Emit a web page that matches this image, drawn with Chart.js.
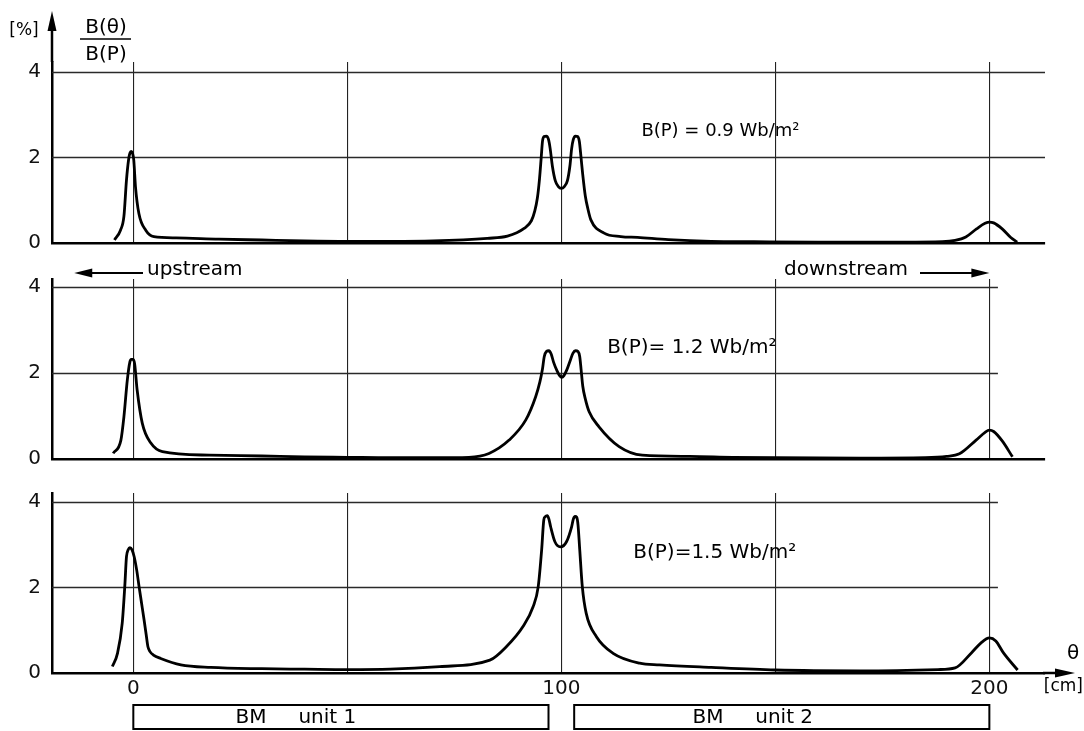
<!DOCTYPE html>
<html>
<head>
<meta charset="utf-8">
<script src="https://cdn.jsdelivr.net/npm/chart.js@4.4.0/dist/chart.umd.min.js"></script>
<style>
  body { margin: 0; background: #fff; }
  #wrap { position: relative; width: 1084px; height: 731px; overflow: hidden; }
  canvas { position: absolute; left: 0; }
</style>
</head>
<body>
<div id="wrap">
  <canvas id="c1" width="1084" height="252" style="top:0px"></canvas>
  <canvas id="c2" width="1084" height="216" style="top:252px"></canvas>
  <canvas id="c3" width="1084" height="263" style="top:468px"></canvas>
</div>
<script>
// Data: theta [cm] and B(theta)/B(P) [%]

// B(P) = 0.9 Wb/m2
let theta09 = [-4.4, -3.0, -2.2, -1.6, -1.1, -0.8, -0.5, -0.2, 0.1, 0.5, 1.3, 2.9, 4.8, 10, 20, 30, 40, 50, 60, 70, 82.7,
  87.4, 91.3, 93.0, 93.8, 94.4, 94.9, 95.3, 95.6, 96.0, 96.5, 97.0, 97.4, 97.9, 98.6, 99.3, 100, 100.7, 101.4, 102.0,
  102.4, 102.8, 103.3, 103.8, 104.2, 104.6, 105.0, 105.6, 106.2, 106.9,
  110, 113.9, 117.8, 125, 135, 145, 160, 180, 189, 192, 194.5, 197, 199, 200, 201, 203, 205, 206.5];
let b09 = [0.07, 0.30, 0.62, 1.47, 1.95, 2.10, 2.14, 2.10, 1.94, 1.32, 0.69, 0.30, 0.15, 0.12, 0.09, 0.07, 0.05, 0.04, 0.04, 0.05, 0.11,
  0.16, 0.34, 0.52, 0.75, 1.05, 1.50, 2.00, 2.38, 2.49, 2.50, 2.42, 2.20, 1.80, 1.45, 1.32, 1.28, 1.32, 1.45, 1.80,
  2.20, 2.42, 2.50, 2.49, 2.38, 2.00, 1.60, 1.10, 0.80, 0.54,
  0.23, 0.15, 0.13, 0.08, 0.04, 0.03, 0.02, 0.02, 0.03, 0.06, 0.14, 0.33, 0.46, 0.49, 0.47, 0.33, 0.13, 0.02];

// B(P) = 1.2 Wb/m2
let theta12 = [-4.7, -2.9, -2.2, -1.4, -0.8, -0.5, -0.1, 0.3, 0.9, 2.1, 4.1, 6.8, 17.7, 30, 40, 50, 60, 70, 78.4,
  83.1, 87.8, 91.7, 94.0, 95.0, 95.6, 96.0, 96.5, 97.1, 97.6, 98.2, 99.0, 99.6, 100.1, 100.6, 101.3, 102.1, 102.7,
  103.3, 103.9, 104.3, 104.6, 105.0, 105.6, 106.5, 108.8,
  113.5, 118.9, 130, 140, 150, 170, 185, 190, 193, 196.9, 199, 200, 201, 203, 205.4];
let b12 = [0.13, 0.44, 0.98, 1.84, 2.26, 2.32, 2.32, 2.22, 1.60, 0.83, 0.37, 0.17, 0.09, 0.07, 0.05, 0.04, 0.03, 0.03, 0.04,
  0.13, 0.44, 0.91, 1.45, 1.80, 2.10, 2.38, 2.50, 2.52, 2.45, 2.25, 2.05, 1.94, 1.90, 1.94, 2.08, 2.30, 2.46,
  2.52, 2.50, 2.38, 2.10, 1.70, 1.40, 1.10, 0.75,
  0.29, 0.09, 0.06, 0.04, 0.03, 0.02, 0.03, 0.06, 0.12, 0.44, 0.62, 0.67, 0.64, 0.42, 0.05];

// B(P) = 1.5 Wb/m2
let theta15 = [-4.9, -3.7, -2.6, -2.0, -1.6, -1.2, -0.8, -0.3, 0.2, 0.8, 1.3, 1.9, 2.5, 3.0, 3.4, 3.9, 4.7, 6.4, 11.1, 18.1,
  30, 40, 50, 60, 71.6, 83.3, 87.2, 91.0, 93.4, 94.6, 95.4, 95.9, 96.2, 96.7, 97.1, 97.5, 98.5, 99.8, 101.2, 102.4,
  102.8, 103.2, 103.6, 103.9, 104.3, 104.9, 105.8,
  108.2, 112.1, 118.3, 122.9, 135, 150, 170, 188, 192, 195.8, 198, 200, 201.5, 203.3, 206.6];
let b15 = [0.15, 0.46, 1.16, 2.02, 2.72, 2.88, 2.93, 2.88, 2.72, 2.40, 2.05, 1.65, 1.25, 0.90, 0.62, 0.50, 0.42, 0.34, 0.19, 0.13,
  0.10, 0.09, 0.08, 0.09, 0.15, 0.30, 0.62, 1.08, 1.55, 2.02, 2.88, 3.58, 3.65, 3.68, 3.60, 3.42, 3.07, 2.95, 3.07, 3.42,
  3.60, 3.66, 3.64, 3.46, 2.88, 2.02, 1.40,
  0.85, 0.46, 0.23, 0.19, 0.13, 0.07, 0.05, 0.08, 0.12, 0.47, 0.70, 0.82, 0.75, 0.47, 0.07];

let xTicks = [0, 50, 100, 150, 200];
let xLabels = ['0', '', '100', '', '200'];
let yTicks = [0, 2, 4];
let yLabels = ['0', '2', '4'];

let fieldLabels = ['B(P) = 0.9 Wb/m²', 'B(P)= 1.2 Wb/m²', 'B(P)=1.5 Wb/m²'];

let unitNames = ['BM     unit 1', 'BM     unit 2'];
let unitStart = [0, 103];
let unitEnd = [97, 200];

const FONT = '"DejaVu Sans", sans-serif';
Chart.defaults.font.family = FONT;
Chart.defaults.color = '#111';

function arrow(ctx, x1, y1, x2, y2, len, half) {
  const a = Math.atan2(y2 - y1, x2 - x1);
  const c = Math.cos(a), s = Math.sin(a);
  ctx.beginPath();
  ctx.moveTo(x1, y1);
  ctx.lineTo(x2 - c * len * 0.7, y2 - s * len * 0.7);
  ctx.stroke();
  ctx.beginPath();
  ctx.moveTo(x2, y2);
  ctx.lineTo(x2 - c * len - s * half, y2 - s * len + c * half);
  ctx.lineTo(x2 - c * len + s * half, y2 - s * len - c * half);
  ctx.closePath();
  ctx.fill();
}

// horizontal grid lines at 2 and 4, only as far as the drawing has them
const hgrid = {
  id: 'hgrid',
  beforeDatasetsDraw(chart, args, opts) {
    const {ctx, chartArea, scales: {x, y}} = chart;
    ctx.save();
    ctx.strokeStyle = '#2a2a2a';
    ctx.lineWidth = 1.3;
    yTicks.forEach(v => {
      if (v === 0) return;
      const py = Math.round(y.getPixelForValue(v)) + 0.5;
      ctx.beginPath();
      ctx.moveTo(chartArea.left, py);
      ctx.lineTo(x.getPixelForValue(opts.gridTo), py);
      ctx.stroke();
    });
    ctx.restore();
  }
};

function fieldText(chart, i, xv, yv, size) {
  const {ctx, scales: {x, y}} = chart;
  ctx.font = size + 'px ' + FONT;
  ctx.textAlign = 'left';
  ctx.textBaseline = 'middle';
  ctx.fillText(fieldLabels[i], x.getPixelForValue(xv), y.getPixelForValue(yv));
}

const panelOne = {
  id: 'panelOne',
  afterDraw(chart) {
    const {ctx, chartArea} = chart;
    ctx.save();
    ctx.fillStyle = '#000';
    ctx.strokeStyle = '#000';
    ctx.lineWidth = 2.5;
    arrow(ctx, chartArea.left, chartArea.top, chartArea.left, 11, 20, 4.5);
    ctx.textAlign = 'center';
    ctx.textBaseline = 'middle';
    ctx.font = '17px ' + FONT;
    ctx.fillText('[%]', 24, 31);
    ctx.font = '20px ' + FONT;
    ctx.fillText('B(θ)', 106, 28);
    ctx.fillText('B(P)', 106, 55);
    ctx.lineWidth = 1.6;
    ctx.beginPath();
    ctx.moveTo(80, 39);
    ctx.lineTo(131, 39);
    ctx.stroke();
    fieldText(chart, 0, 118.7, 2.62, 18);
    ctx.restore();
  }
};

const panelTwo = {
  id: 'panelTwo',
  afterDraw(chart) {
    const {ctx, scales: {x}} = chart;
    ctx.save();
    ctx.fillStyle = '#000';
    ctx.strokeStyle = '#000';
    ctx.lineWidth = 2.2;
    ctx.font = '20px ' + FONT;
    ctx.textBaseline = 'alphabetic';
    ctx.textAlign = 'left';
    ctx.fillText('upstream', 147, 23);
    ctx.textAlign = 'right';
    ctx.fillText('downstream', 908, 23);
    arrow(ctx, 143, 21, x.getPixelForValue(-13.8), 21, 18, 4.5);
    arrow(ctx, 920, 21, x.getPixelForValue(200), 21, 18, 4.5);
    fieldText(chart, 1, 110.7, 2.6, 20);
    ctx.restore();
  }
};

const panelThree = {
  id: 'panelThree',
  afterDraw(chart) {
    const {ctx, chartArea, scales: {x}} = chart;
    const textShift = [-45, -29];
    ctx.save();
    ctx.fillStyle = '#000';
    ctx.strokeStyle = '#000';
    ctx.lineWidth = 2.5;
    arrow(ctx, chartArea.right - 2, chartArea.bottom, 1075, chartArea.bottom, 20, 4.5);
    fieldText(chart, 2, 116.8, 2.8, 20);
    ctx.textBaseline = 'middle';
    ctx.textAlign = 'center';
    ctx.font = '20px ' + FONT;
    ctx.fillText('θ', 1073, 186);
    ctx.textAlign = 'right';
    ctx.font = '17px ' + FONT;
    ctx.fillText('[cm]', 1083, 219);
    // magnet units
    ctx.textAlign = 'center';
    ctx.font = '20px ' + FONT;
    ctx.lineWidth = 2;
    for (let i = 0; i < unitNames.length; i++) {
      const l = x.getPixelForValue(unitStart[i]);
      const r = x.getPixelForValue(unitEnd[i]);
      ctx.strokeRect(l, 237, r - l, 24);
      ctx.fillText(unitNames[i], (l + r) / 2 + textShift[i], 250);
    }
    ctx.restore();
  }
};

function makePanel(id, xs, ys, yMax, pad, gridTo, axisHeight, plugin) {
  const ctx = document.getElementById(id).getContext('2d');
  return new Chart(ctx, {
    type: 'line',
    data: {
      datasets: [{
        data: xs.map((v, i) => ({x: v, y: ys[i]})),
        borderColor: '#000',
        borderWidth: 2.8,
        pointRadius: 0,
        fill: false,
        cubicInterpolationMode: 'monotone'
      }]
    },
    options: {
      responsive: false,
      animation: false,
      events: [],
      layout: {padding: pad},
      plugins: {
        legend: {display: false},
        tooltip: {enabled: false},
        hgrid: {gridTo: gridTo}
      },
      scales: {
        x: {
          type: 'linear',
          min: -19,
          max: 213,
          afterBuildTicks: s => { s.ticks = xTicks.map(v => ({value: v})); },
          afterFit: s => { s.height = axisHeight; s.paddingLeft = 0; s.paddingRight = 0; },
          grid: {color: '#222', lineWidth: 1.1, drawTicks: false},
          border: {display: true, color: '#000', width: 2.5},
          ticks: {
            display: axisHeight > 0,
            autoSkip: false,
            maxRotation: 0,
            padding: 4,
            font: {size: 20},
            color: '#111',
            callback: (v, i) => xLabels[i]
          }
        },
        y: {
          type: 'linear',
          min: 0,
          max: yMax,
          afterBuildTicks: s => { s.ticks = yTicks.map(v => ({value: v})); },
          afterFit: s => { s.width = 52; s.paddingTop = 0; s.paddingBottom = 0; },
          grid: {color: 'rgba(0,0,0,0)', drawTicks: false},
          border: {display: true, color: '#000', width: 2.5},
          ticks: {
            padding: 11,
            font: {size: 20},
            color: '#111',
            callback: (v, i) => yLabels[i]
          }
        }
      }
    },
    plugins: [hgrid, plugin]
  });
}

makePanel('c1', theta09, b09, 4.23, {left: 0, right: 39, top: 62, bottom: 9}, 213, 0, panelOne);
makePanel('c2', theta12, b12, 4.19, {left: 0, right: 39, top: 27, bottom: 9}, 202, 0, panelTwo);
makePanel('c3', theta15, b15, 4.21, {left: 0, right: 39, top: 25, bottom: 22}, 202, 36, panelThree);
</script>
</body>
</html>
